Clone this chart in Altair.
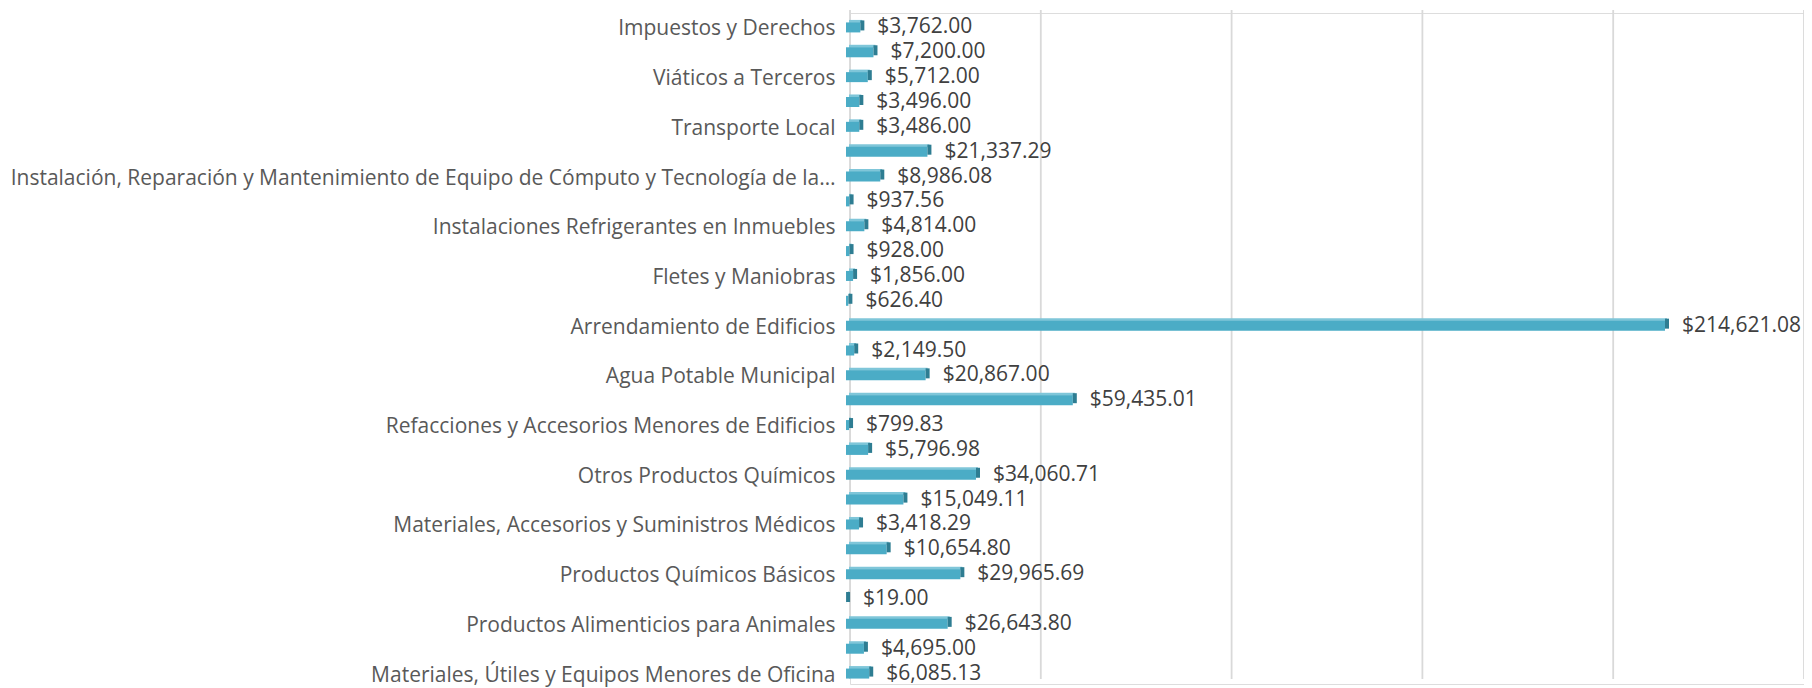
import altair as alt
import pandas as pd

labels = [
    "Impuestos y Derechos", "",
    "Viáticos a Terceros", "",
    "Transporte Local", "",
    "Instalación, Reparación y Mantenimiento de Equipo de Cómputo y Tecnología de la…", "",
    "Instalaciones Refrigerantes en Inmuebles", "",
    "Fletes y Maniobras", "",
    "Arrendamiento de Edificios", "",
    "Agua Potable Municipal", "",
    "Refacciones y Accesorios Menores de Edificios", "",
    "Otros Productos Químicos", "",
    "Materiales, Accesorios y Suministros Médicos", "",
    "Productos Químicos Básicos", "",
    "Productos Alimenticios para Animales", "",
    "Materiales, Útiles y Equipos Menores de Oficina",
]
values = [
    3762.00, 7200.00, 5712.00, 3496.00, 3486.00, 21337.29, 8986.08, 937.56,
    4814.00, 928.00, 1856.00, 626.40, 214621.08, 2149.50, 20867.00, 59435.01,
    799.83, 5796.98, 34060.71, 15049.11, 3418.29, 10654.80, 29965.69, 19.00,
    26643.80, 4695.00, 6085.13,
]
grid_ticks = [0, 50000, 100000, 150000, 200000, 250000]

df = pd.DataFrame({"idx": list(range(len(values))), "valor": values, "nombre": labels})
df["texto"] = df["valor"].map(lambda v: "${:,.2f}".format(v))

FONT = "Open Sans"
label_js = "[" + ",".join('"' + s.replace('"', '\\"') + '"' for s in labels) + "]"

y_enc = alt.Y(
    "idx:O",
    title=None,
    scale=alt.Scale(paddingInner=0, paddingOuter=0),
    axis=alt.Axis(
        labelExpr=label_js + "[datum.value]",
        ticks=False,
        domain=False,
        labelPadding=15,
        labelOffset=4,
        labelFont=FONT,
        labelFontSize=21,
        labelColor="#595959",
        labelLimit=900,
        grid=False,
    ),
)
x_scale = alt.Scale(domain=[0, 250000], nice=False, zero=True)

base = alt.Chart(df)

grid = alt.Chart(pd.DataFrame({"t": grid_ticks})).mark_rule(
    color="#D9D9D9", strokeWidth=1.8
).encode(
    x=alt.X("t:Q", scale=x_scale, axis=None),
    y=alt.value(-3),
    y2=alt.value(666),
)

bars = base.mark_bar(size=10, color="#4BACC6", xOffset=-4, x2Offset=-4, yOffset=2).encode(
    x=alt.X("valor:Q", scale=x_scale, axis=None),
    x2=alt.datum(0),
    y=y_enc,
)
top = base.mark_bar(size=3, color="#7FC6D9", xOffset=-2, x2Offset=-1, yOffset=-4).encode(
    x=alt.X("valor:Q", scale=x_scale, axis=None),
    x2=alt.datum(0),
    y=y_enc,
)
cap = base.mark_bar(size=10, color="#2E7D92", xOffset=-4, x2Offset=0, yOffset=0).encode(
    x=alt.X("valor:Q", scale=x_scale, axis=None),
    x2="valor:Q",
    y=y_enc,
)
text = base.mark_text(
    align="left", baseline="middle", dx=13, dy=2,
    font=FONT, fontSize=21, color="#404040",
).encode(
    x=alt.X("valor:Q", scale=x_scale, axis=None),
    y=y_enc,
    text="texto:N",
)

chart = alt.layer(grid, top, bars, cap, text).properties(
    width=954,
    height=671,
    autosize=alt.AutoSizeParams(type="none"),
    padding={"left": 842, "top": 5, "right": 0, "bottom": 4},
).configure_view(stroke=None).configure(background="white")

chart.save("out.html", embed_options={"renderer": "svg", "actions": False})
